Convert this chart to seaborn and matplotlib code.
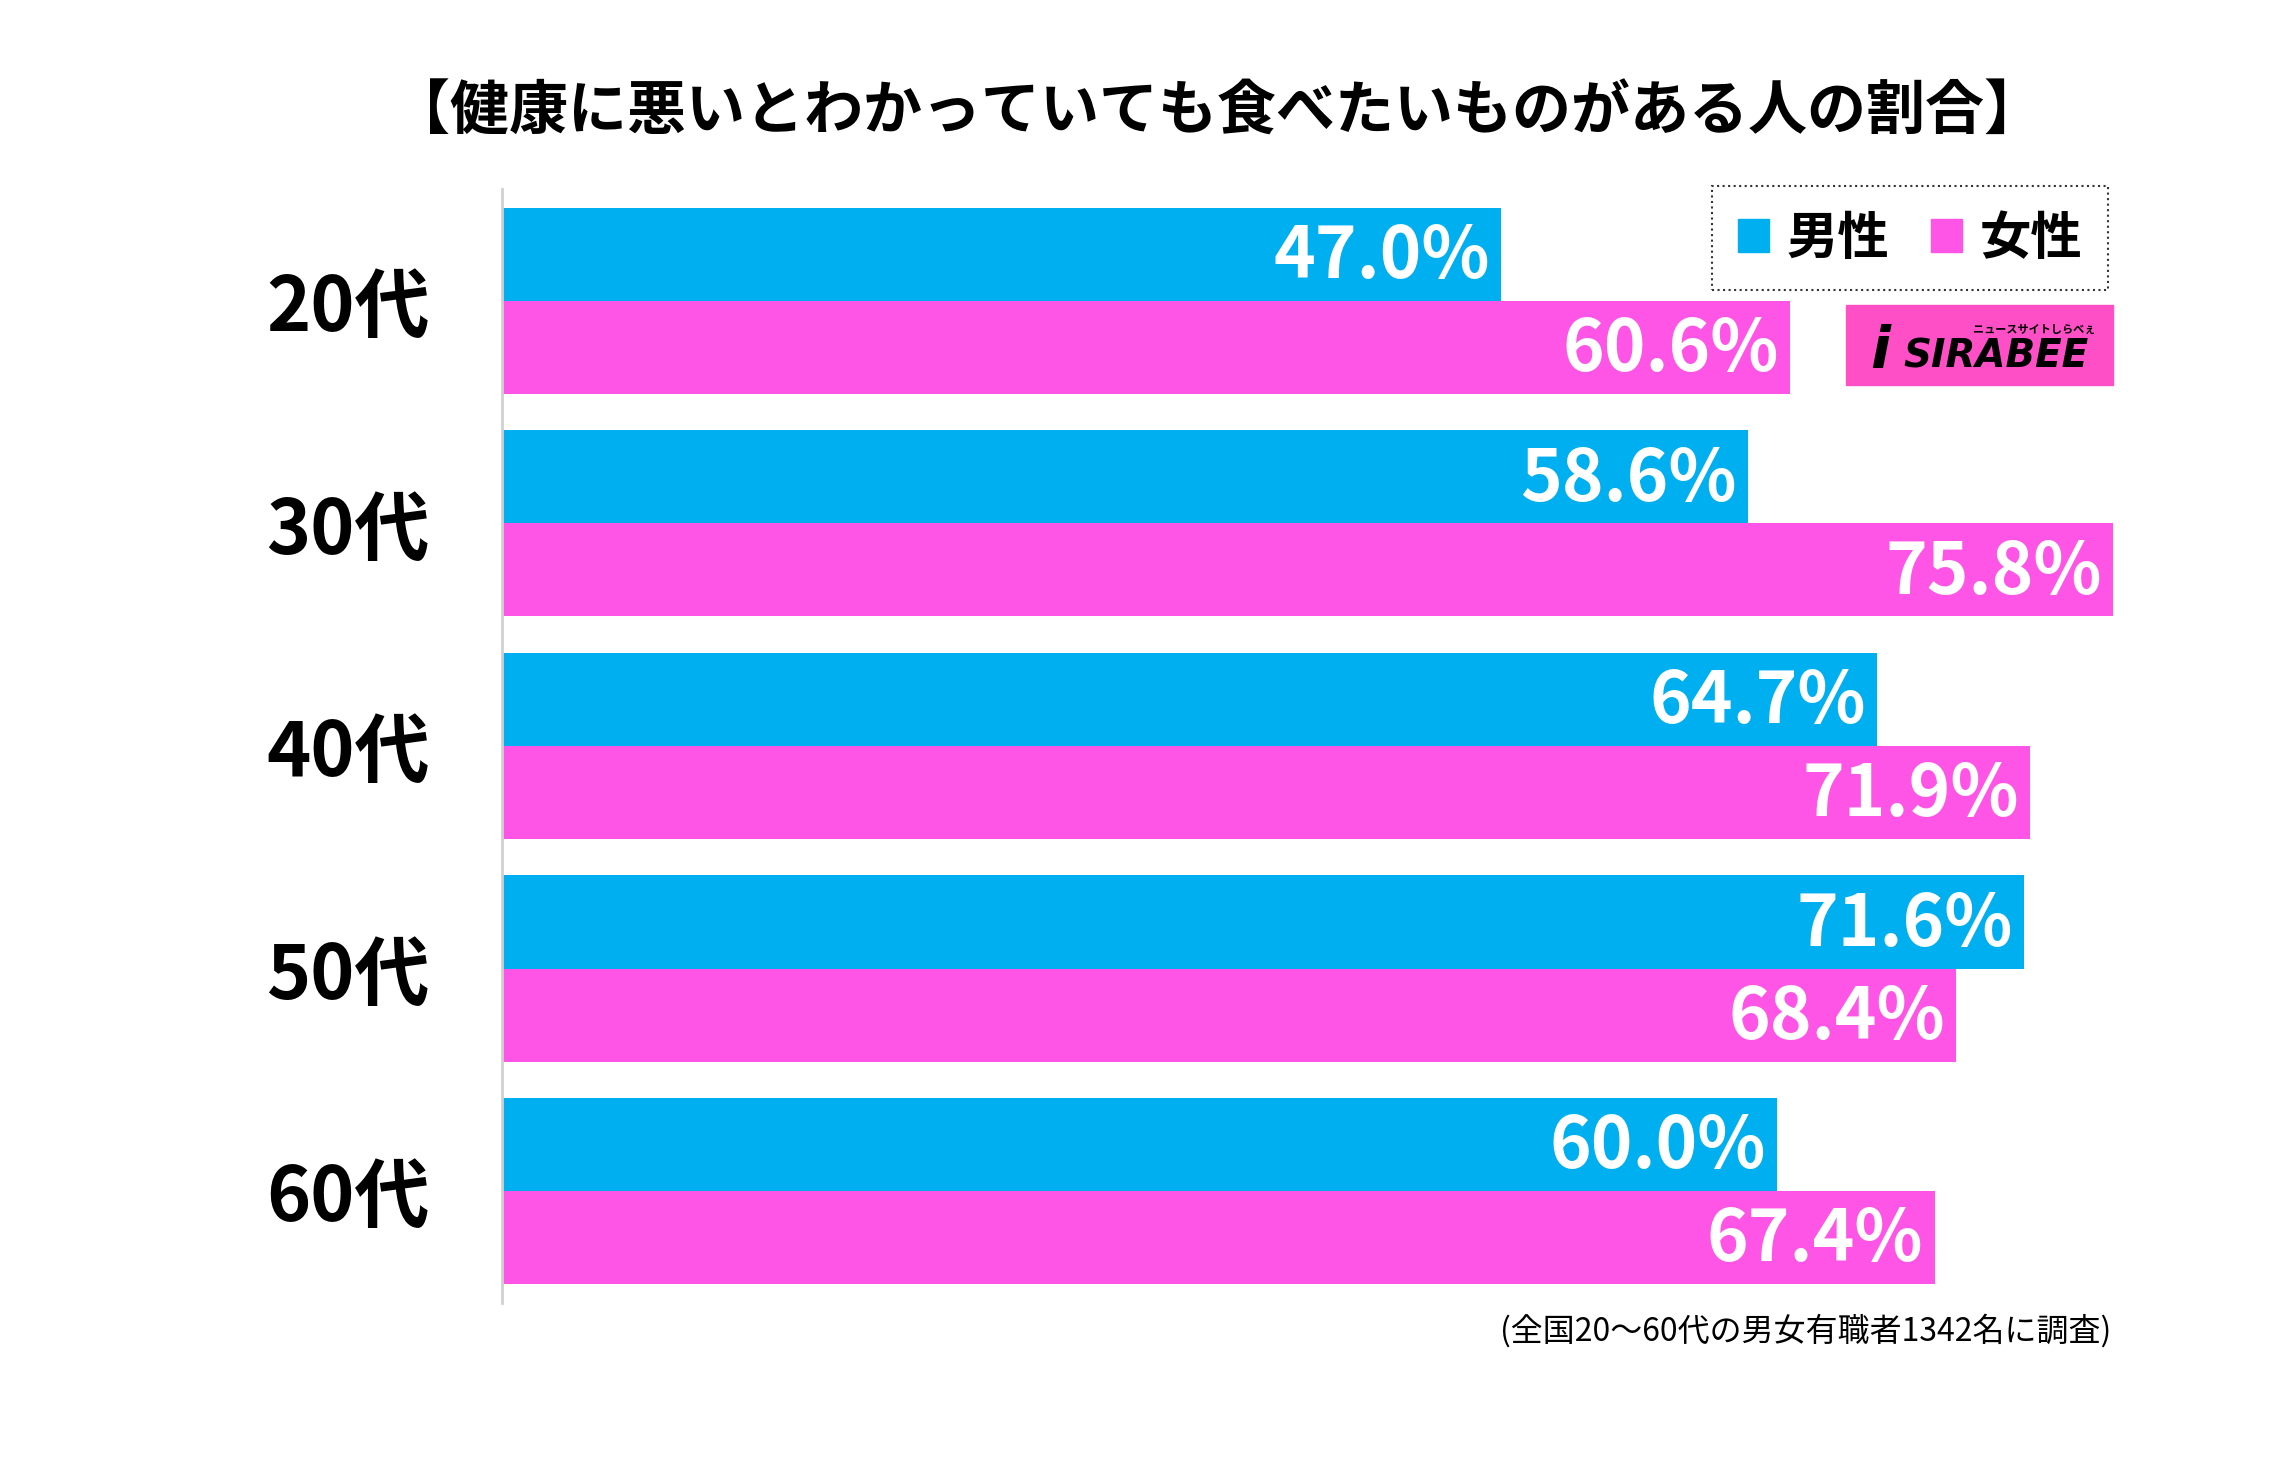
import pandas as pd
import matplotlib.pyplot as plt
import seaborn as sns
from matplotlib.patches import Patch, Rectangle

# data
ages = ['20代', '30代', '40代', '50代', '60代']
male = [47.0, 58.6, 64.7, 71.6, 60.0]
female = [60.6, 75.8, 71.9, 68.4, 67.4]
sexes = ['男性', '女性']

title = '【健康に悪いとわかっていても食べたいものがある人の割合】'
note = '(全国20～60代の男女有職者1342名に調査)'

blue = '#00AFEF'
pink = '#FF55E6'
logo_pink = '#FF4FC6'

df = pd.DataFrame({
    'age': ages * 2,
    'sex': [sexes[0]] * len(ages) + [sexes[1]] * len(ages),
    'value': male + female,
})

sns.set_style('white')
plt.rcParams['font.family'] = ['Noto Sans CJK JP', 'DejaVu Sans']
plt.rcParams['text.color'] = 'black'
plt.rcParams['ytick.color'] = 'black'

fig = plt.figure(figsize=(22.8, 14.76), dpi=100)
ax = fig.add_axes([0.2202, 0.1172, 0.7066, 0.7548])

sns.barplot(data=df, y='age', x='value', hue='sex', orient='h',
            palette=[blue, pink], width=0.836, gap=0, saturation=1,
            linewidth=0, legend=False, ax=ax)

ax.set_xlim(0, max(female + male))
ax.set_ylim(len(ages) - 0.497, -0.503)

# value labels inside the bar ends
for cont, vals in zip(ax.containers, [male, female]):
    for bar, v in zip(cont, vals):
        ax.annotate(f'{v:.1f}%', (bar.get_width(), bar.get_y() + bar.get_height() / 2),
                    xytext=(-8, -2), textcoords='offset points',
                    ha='right', va='center', color='white',
                    fontsize=51, fontweight='bold')

ax.set_xlabel('')
ax.set_ylabel('')
ax.set_xticks([])
ax.tick_params(axis='y', length=0, pad=52)
for lab in ax.get_yticklabels():
    lab.set_fontsize(54)
    lab.set_fontweight('bold')
for s in ['top', 'right', 'bottom']:
    ax.spines[s].set_visible(False)
ax.spines['left'].set_color('#d0d0d0')
ax.spines['left'].set_linewidth(2)

# legend
handles = [Patch(color=blue), Patch(color=pink)]
leg = fig.legend(handles, sexes, loc='upper right',
                 bbox_to_anchor=(2108 / 2280, 1 - 186 / 1476),
                 ncol=2, frameon=True, fancybox=False, borderaxespad=0,
                 handlelength=0.6, handleheight=0.6, handletextpad=0.35,
                 columnspacing=0.8, borderpad=0.5,
                 prop={'weight': 'bold', 'size': 37})
leg.get_frame().set_edgecolor('black')
leg.get_frame().set_linestyle(':')
leg.get_frame().set_linewidth(1.5)

# logo
fig.patches.append(Rectangle((1846 / 2280, 1 - 385 / 1476), 267 / 2280, 80 / 1476,
                             transform=fig.transFigure, color=logo_pink, zorder=3))
fig.text(1880 / 2280, 1 - 352 / 1476, 'i', fontsize=42, fontweight='bold',
         style='italic', ha='center', va='center', zorder=4,
         family=['DejaVu Sans'])
fig.text(1903 / 2280, 1 - 356 / 1476, 'SIRABEE', fontsize=28, fontweight='bold',
         style='italic', ha='left', va='center', zorder=4, family=['DejaVu Sans'])
fig.text(2095 / 2280, 1 - 329 / 1476, 'ニュースサイトしらべぇ', fontsize=8,
         fontweight='bold', ha='right', va='center', zorder=4)

fig.text(1217 / 2280, 1 - 113 / 1476, title, fontsize=42.5, fontweight='bold',
         ha='center', va='center')
fig.text(2111 / 2280, 1 - 1331 / 1476, note, fontsize=23, ha='right', va='center')

fig.savefig('out.png', dpi=100, facecolor='white')
